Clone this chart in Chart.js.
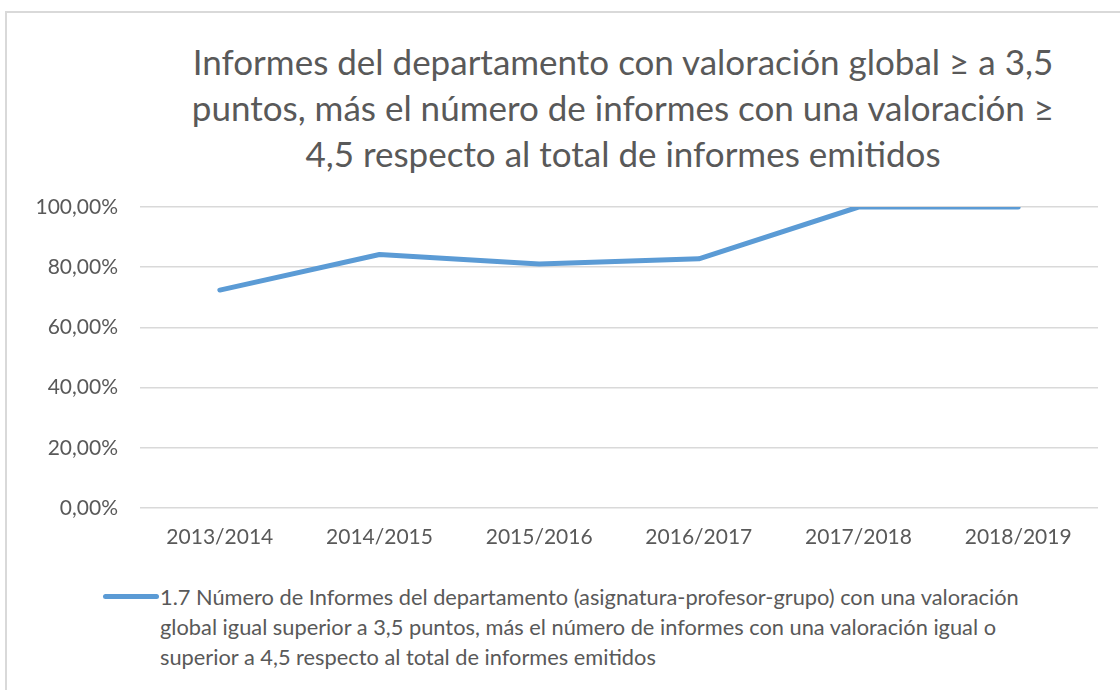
<!DOCTYPE html>
<html>
<head>
<meta charset="utf-8">
<script src="https://cdn.jsdelivr.net/npm/chart.js@4.4.1/dist/chart.umd.min.js"></script>
<style>
    html, body { margin: 0; padding: 0; background: #fff; width: 1120px; height: 690px; overflow: hidden; }
    #frame { position: absolute; left: 5px; top: 11px; width: 1300px; height: 700px;
             border-left: 2px solid #d9d9d9; border-top: 2px solid #d9d9d9; }
    #title { position: absolute; left: 5px; top: 38px; width: 1236px; text-align: center;
             font-family: Lato, sans-serif; font-size: 35px; line-height: 46px; color: #595959; }
    #wrap { position: absolute; left: 5px; top: 11px; width: 1115px; height: 560px; }
    #legend { position: absolute; left: 103px; top: 582px; font-family: Lato, sans-serif;
              font-size: 21.8px; color: #595959; line-height: 30px; }
    #legend .swatch { position: absolute; left: 0; top: 12px; width: 56px; height: 5px;
                      background: #5b9bd5; border-radius: 3px; }
    #legend .txt { margin-left: 57px; }
</style>
</head>
<body>
<div id="frame"></div>
<div id="title"></div>
<div id="wrap"><canvas id="chart" width="1115" height="560"></canvas></div>
<div id="legend"><span class="swatch"></span><div class="txt" id="legend-text"></div></div>
<script>
// datos del gráfico
const categories = ['2013/2014', '2014/2015', '2015/2016', '2016/2017', '2017/2018', '2018/2019'];
const values = [72.4, 84.2, 81.1, 82.8, 100, 100];
const titleLines = [
    'Informes del departamento con valoración global ≥ a 3,5',
    'puntos, más el número de informes con una valoración ≥',
    '4,5 respecto al total de informes emitidos'
];
const seriesLabel = [
    '1.7 Número de Informes del departamento (asignatura-profesor-grupo) con una valoración',
    'global igual superior a 3,5 puntos, más el número de informes con una valoración igual o',
    'superior a 4,5 respecto al total de informes emitidos'
];

const textColor = '#595959';
const gridColor = '#d9d9d9';

// título y leyenda como texto HTML (el título se centra sobre todo el gráfico)
document.getElementById('title').innerHTML = titleLines.join('<br>');
document.getElementById('legend-text').innerHTML = seriesLabel.join('<br>');

const ctx = document.getElementById('chart').getContext('2d');
new Chart(ctx, {
    type: 'line',
    data: {
        labels: categories,
        datasets: [{
            label: seriesLabel.join(' '),
            data: values,
            borderColor: '#5b9bd5',
            backgroundColor: '#5b9bd5',
            borderWidth: 5,
            borderCapStyle: 'round',
            borderJoinStyle: 'round',
            pointRadius: 0,
            tension: 0
        }]
    },
    options: {
        responsive: false,
        animation: false,
        layout: { padding: { left: 0, right: 22, top: 196, bottom: 13 } },
        plugins: {
            legend: { display: false },
            tooltip: { enabled: false },
            title: { display: false }
        },
        scales: {
            x: {
                offset: true,
                grid: { display: false, drawTicks: false },
                border: { display: false },
                ticks: {
                    color: textColor,
                    font: { family: 'Lato', size: 21 },
                    padding: 17,
                    maxRotation: 0
                },
                afterFit: (scale) => { scale.height = 50; }
            },
            y: {
                min: 0,
                max: 100,
                ticks: {
                    stepSize: 20,
                    color: textColor,
                    font: { family: 'Lato', size: 21 },
                    padding: 22,
                    callback: (v) => v.toFixed(2).replace('.', ',') + '%'
                },
                grid: { color: gridColor, lineWidth: 1.5, drawTicks: false },
                border: { display: false },
                afterFit: (scale) => { scale.width = 135; }
            }
        }
    }
});
</script>
</body>
</html>
